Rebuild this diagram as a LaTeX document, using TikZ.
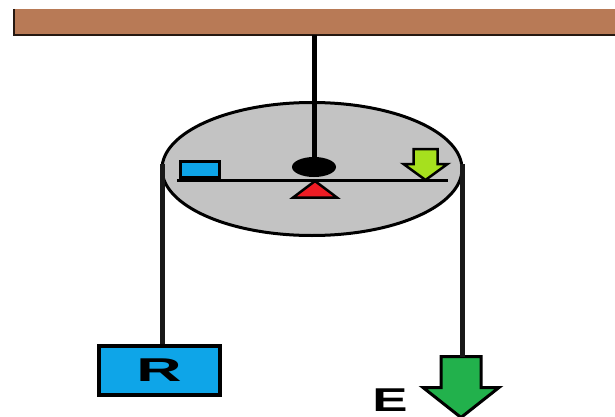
\documentclass[tikz,border=0pt]{standalone}
\usepackage{fontspec}
\setmainfont{Liberation Sans}
\usetikzlibrary{shapes, positioning}
\definecolor{beamcolor}{HTML}{B87A56}
\definecolor{pulleygray}{HTML}{C3C3C3}
\definecolor{blockblue}{HTML}{0EA5E8}
\definecolor{forcegreen}{HTML}{22B14C}
\definecolor{smallgreen}{HTML}{A6E01E}
\definecolor{pivotred}{HTML}{ED1C24}

\begin{document}
\begin{tikzpicture}[x=1pt, y=-1pt,
    rope/.style={line width=5pt, black!90},
    bar/.style={line width=3pt, black},
    letter/.style={font=\fontsize{33}{33}\selectfont\bfseries, inner sep=0pt},
    forcearrow/.style={draw=black, line join=miter}]
  \useasboundingbox (0,0) rectangle (615,417);

  % SUPPORT

  \node [rectangle, fill=beamcolor, minimum width=601pt, minimum height=26pt, 
    inner sep=0pt, outer sep=0pt] (beam) at (314.5,22) {};
  \draw [line width=1.5pt, black!80!beamcolor] (beam.north west) |- (beam.south east);

  % PULLEY

  \node [ellipse, fill=pulleygray, draw=black, line width=3pt, 
    minimum width=300pt, minimum height=133pt, inner sep=0pt, outer sep=0pt] 
    (pulley) at (312,169) {};

  \node [ellipse, fill=black, minimum width=44pt, minimum height=20pt, 
    inner sep=0pt] (pivot) at (314,167) {};

  \draw [line width=5pt] (pivot |- beam.south) -- (pivot);

  % LEVER

  \coordinate (leverleft) at (177,180);
  \coordinate (leverright) at (448,180);

  \node [rectangle, fill=blockblue, draw=black, line width=3pt, 
    minimum width=39pt, minimum height=16pt, inner sep=0pt, 
    above right=0pt and 0pt of leverleft, xshift=1.5pt, yshift=1pt] (smallblock) {};

  \coordinate (smalltop) at (425.5,149);
  \draw [forcearrow, fill=smallgreen, line width=2.5pt] 
    (smalltop) ++(-12,0) -- ++(24,0) -- ++(0,15) -- ++(10,0) -- ++(-22,16) 
    -- ++(-22,-16) -- ++(10,0) -- cycle;

  \node [isosceles triangle, isosceles triangle apex angle=106, shape border rotate=90, 
    fill=pivotred, draw=black, line width=2.5pt, inner sep=0pt, outer sep=0pt, 
    minimum width=44pt, minimum height=16pt, anchor=apex] (fulcrum) at (315,181) {};

  \draw [bar] (leverleft) -- (leverright);

  % LOADS

  \node [rectangle, fill=blockblue, draw=black, line width=4pt, 
    minimum width=121pt, minimum height=49pt, letter] (rblock) at (159,370) 
    {\scalebox{1.9}[1]{R}};

  \coordinate (eartop) at (461,356.5);
  \draw [forcearrow, fill=forcegreen, line width=3pt] 
    (eartop) ++(-20,0) -- ++(40,0) -- ++(0,31) -- ++(18,0) -- ++(-38,30) 
    -- ++(-38,-30) -- ++(18,0) -- cycle;

  \node [letter] (eletter) at (390,400) {\scalebox{1.6}[1]{E}};

  % ROPES

  \draw [rope] ([yshift=5pt]pulley.west) -- (pulley.west |- rblock.north);
  \draw [rope] ([yshift=5pt]pulley.east) -- (pulley.east |- eartop);

\end{tikzpicture}
\end{document}
